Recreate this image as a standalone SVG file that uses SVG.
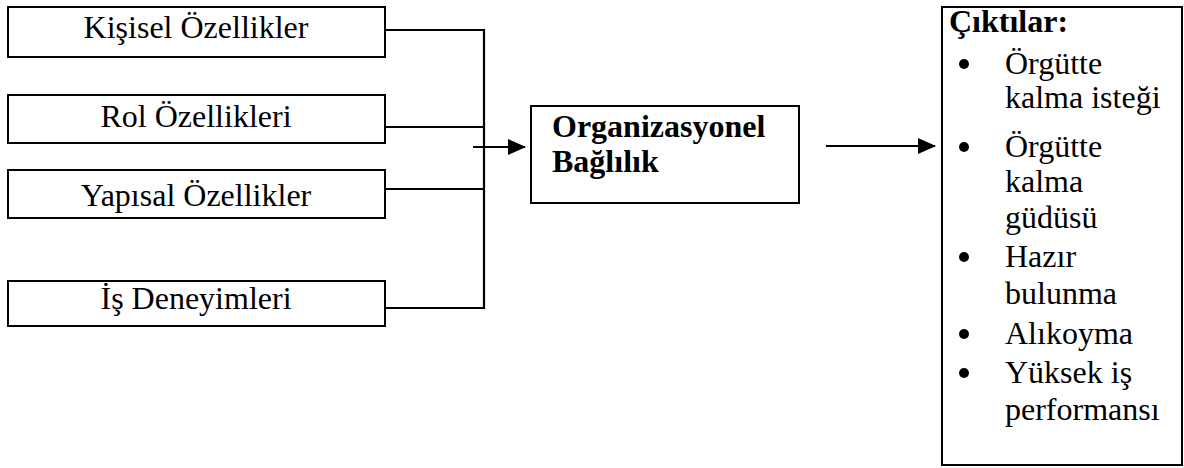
<svg xmlns="http://www.w3.org/2000/svg" width="1184" height="468" viewBox="0 0 1184 468">
<style>
.box{fill:#fff;stroke:#000;stroke-width:2}
.t{font-family:"Liberation Serif","Times New Roman",serif;font-size:32px;fill:#000}
.c{text-anchor:middle}
.b{font-weight:bold}
.ln{fill:none;stroke:#000;stroke-width:2.2}
</style>
<defs>
<marker id="ah" markerWidth="18" markerHeight="16" refX="17" refY="8" orient="auto" markerUnits="userSpaceOnUse">
<path d="M0,0 L18,8 L0,16 Z" fill="#000"/>
</marker>
</defs>
<rect width="1184" height="468" fill="#fff"/>
<g id="kisisel">
<rect class="box" x="8" y="7" width="377" height="50"/>
<text class="t c" x="196" y="38">Kişisel Özellikler</text>
</g>
<g id="rol">
<rect class="box" x="8" y="95" width="377" height="48"/>
<text class="t c" x="196" y="127">Rol Özellikleri</text>
</g>
<g id="yapisal">
<rect class="box" x="8" y="170" width="377" height="48"/>
<text class="t c" x="196" y="206">Yapısal Özellikler</text>
</g>
<g id="is">
<rect class="box" x="8" y="281" width="377" height="45"/>
<text class="t c" x="196" y="309">İş Deneyimleri</text>
</g>
<g id="org">
<rect class="box" x="531" y="106" width="268" height="97"/>
<text class="t b" x="552" y="137">Organizasyonel</text>
<text class="t b" x="552" y="172">Bağlılık</text>
</g>
<g id="ciktilar">
<rect class="box" x="942" y="7" width="240" height="458"/>
<text class="t b" x="949" y="32">Çıktılar:</text>
<g fill="#000">
<circle cx="964" cy="64" r="5"/>
<circle cx="964" cy="147" r="5"/>
<circle cx="964" cy="257" r="5"/>
<circle cx="964" cy="334" r="5"/>
<circle cx="964" cy="373" r="5"/>
</g>
<text class="t" x="1005" y="74">Örgütte</text>
<text class="t" x="1005" y="108">kalma isteği</text>
<text class="t" x="1005" y="157">Örgütte</text>
<text class="t" x="1005" y="192">kalma</text>
<text class="t" x="1005" y="228">güdüsü</text>
<text class="t" x="1005" y="267">Hazır</text>
<text class="t" x="1005" y="304">bulunma</text>
<text class="t" x="1005" y="344">Alıkoyma</text>
<text class="t" x="1005" y="383">Yüksek iş</text>
<text class="t" x="1005" y="420">performansı</text>
</g>
<g id="connectors">
<path class="ln" d="M385,30 H484 M385,127 H484 M385,189 H484 M385,308 H484 M484,29 V309"/>
<path class="ln" d="M473,147 H525" marker-end="url(#ah)"/>
<path class="ln" d="M826,146 H935" marker-end="url(#ah)"/>
</g>
</svg>
